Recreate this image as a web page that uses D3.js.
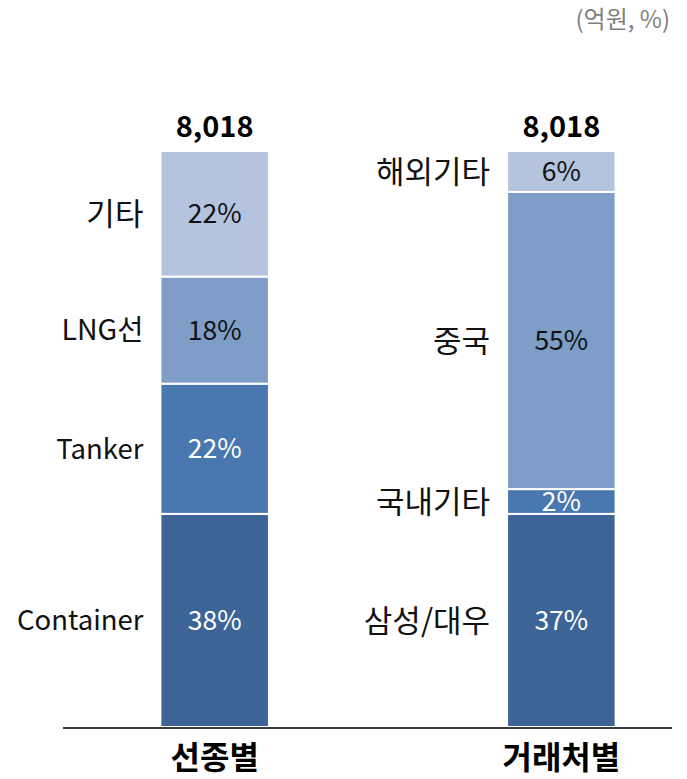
<!DOCTYPE html>
<html>
<head>
<meta charset="utf-8">
<script src="https://cdn.jsdelivr.net/npm/d3@7"></script>
<style>
  body { margin: 0; background: #fff; }
  svg text { font-family: "Noto Sans CJK KR", "Noto Sans", sans-serif; }
</style>
</head>
<body>
<svg width="687" height="779"></svg>
<script>
// bars and totals
const groups = ['선종별', '거래처별'];
const totals = ['8,018', '8,018'];

// 선종별 segments, bottom to top (share = bar height)
const shipTypes = ['Container', 'Tanker', 'LNG선', '기타'];
const shipShares = [37.0, 22.6, 18.6, 21.8];
const shipLabels = ['38%', '22%', '18%', '22%'];

// 거래처별 segments, bottom to top
const clients = ['삼성/대우', '국내기타', '중국', '해외기타'];
const clientShares = [37.0, 4.3, 51.6, 7.1];
const clientLabels = ['37%', '2%', '55%', '6%'];

const unitLabel = '(억원, %)';

const colors = ['#3d6496', '#4977b0', '#7e9dc7', '#b4c4de'];
const textColors = ['#fff', '#fff', '#111', '#111'];

const svg = d3.select('svg');

const x = d3.scaleBand()
    .domain(groups)
    .range([63, 713])
    .paddingInner(0.687)
    .paddingOuter(0.281);

const y = d3.scaleLinear()
    .domain([0, 100])
    .range([727, 151]);

// Korean glyphs in the original font run larger than the latin ones
const labelSize = name => {
  const hangul = (name.match(/[\uac00-\ud7a3]/g) || []).length;
  if (hangul === 0) return 27.5;
  return hangul === name.replace('/', '').length ? 31 : 28.5;
};

const series = [
  { group: groups[0], names: shipTypes, shares: shipShares, labels: shipLabels },
  { group: groups[1], names: clients, shares: clientShares, labels: clientLabels }
];

series.forEach((s, si) => {
  const stack = [];
  let acc = 0;
  s.shares.forEach((v, i) => {
    stack.push({ name: s.names[i], label: s.labels[i], y0: acc, y1: acc + v, i: i });
    acc += v;
  });

  const g = svg.append('g');
  const bx = x(s.group);
  const bw = x.bandwidth();

  g.selectAll('rect').data(stack)
    .enter().append('rect')
      .attr('x', bx)
      .attr('width', bw)
      .attr('y', d => y(d.y1))
      .attr('height', d => y(d.y0) - y(d.y1))
      .attr('fill', d => colors[d.i])
      .attr('stroke', '#fff')
      .attr('stroke-width', 2);

  g.selectAll('.pct').data(stack)
    .enter().append('text')
      .attr('class', 'pct')
      .attr('x', bx + bw / 2)
      .attr('y', d => (y(d.y0) + y(d.y1)) / 2)
      .attr('dy', '0.36em')
      .attr('text-anchor', 'middle')
      .attr('font-size', 26.5)
      .attr('fill', d => textColors[d.i])
      .text(d => d.label);

  g.selectAll('.cat').data(stack)
    .enter().append('text')
      .attr('class', 'cat')
      .attr('x', bx - 17)
      .attr('y', d => (y(d.y0) + y(d.y1)) / 2)
      .attr('dy', '0.36em')
      .attr('text-anchor', 'end')
      .attr('font-size', d => labelSize(d.name))
      .attr('fill', '#111')
      .text(d => d.name);

  g.append('text')
      .attr('x', bx + bw / 2)
      .attr('y', y(100) - 14)
      .attr('text-anchor', 'middle')
      .attr('font-size', 29)
      .attr('font-weight', 'bold')
      .attr('fill', '#000')
      .text(totals[si]);

  g.append('text')
      .attr('x', bx + bw / 2)
      .attr('y', 757)
      .attr('dy', '0.36em')
      .attr('text-anchor', 'middle')
      .attr('font-size', 32)
      .attr('font-weight', 'bold')
      .attr('fill', '#000')
      .text(s.group);
});

// baseline
svg.append('line')
    .attr('x1', 63)
    .attr('x2', 672)
    .attr('y1', 728)
    .attr('y2', 728)
    .attr('stroke', '#3a3a3a')
    .attr('stroke-width', 2);

svg.append('text')
    .attr('x', 670)
    .attr('y', 19)
    .attr('dy', '0.36em')
    .attr('text-anchor', 'end')
    .attr('font-size', 24)
    .attr('fill', '#808080')
    .text(unitLabel);
</script>
</body>
</html>
